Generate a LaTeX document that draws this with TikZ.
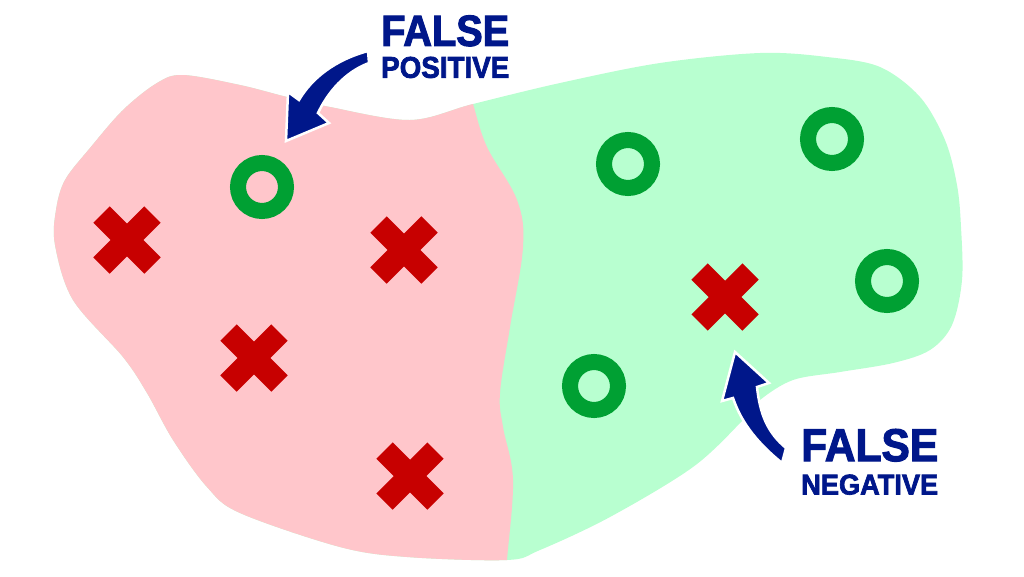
\documentclass[tikz,border=0pt]{standalone}
\usepackage{fontspec}
\usepackage{graphicx}
\setmainfont{Liberation Sans}
\newfontfamily\labfont[FakeBold=2.5]{Liberation Sans Bold}
\definecolor{pinkreg}{HTML}{FFC6CB}
\definecolor{greenreg}{HTML}{B8FFD0}
\definecolor{ringgreen}{HTML}{00A033}
\definecolor{crossred}{HTML}{C70000}
\definecolor{navy}{HTML}{00178A}
\tikzset{
  ring/.style={circle, draw=ringgreen, line width=16pt, minimum size=48pt, inner sep=0pt},
  crossmark/.style={crossred, line width=23pt, line cap=butt},
  bigarrow/.style={fill=navy, draw=white, line width=2.5pt, line join=miter},
  lab/.style={inner sep=0pt, anchor=south west, text=navy, font=\labfont}
}
\newcommand{\xmark}[2]{%
  \draw[crossmark] (#1-25.5,#2-25.5) -- (#1+25.5,#2+25.5);
  \draw[crossmark] (#1-25.5,#2+25.5) -- (#1+25.5,#2-25.5);}
\begin{document}
\begin{tikzpicture}[x=1pt,y=-1pt]
\useasboundingbox (0,0) rectangle (1024,576);
\def\blob{plot[smooth cycle, tension=0.55] coordinates {
 (157,83) (183,75) (240,85) (287,97) (330,107) (410,120) (473,104)
 (560,83) (660,63) (760,53) (827,57) (880,67) (920,97) (945,140) (957,185) (961,227)
 (962,280) (952,325) (930,350) (893,363) (840,372) (793,380) (760,400)
 (743,420) (693,467) (610,517) (540,550) (507,560) (407,557) (340,547)
 (240,513) (207,487) (173,440) (147,393) (123,357) (73,300) (55,245) (56,210)
 (65,180) (90,148) (123,110)}}
% green region (whole blob)
\fill[greenreg] \blob;
% pink region: left of divider
\begin{scope}
\clip plot[smooth, tension=0.6] coordinates {(466,80) (473,104) (487,147) (517,200) (523,247)
  (510,327) (500,393) (503,427) (513,480) (507,560) (505,590)} -- (-10,590) -- (-10,-10) -- cycle;
\fill[pinkreg] \blob;
\end{scope}
% rings
\node[ring] (r1) at (262,187) {};
\node[ring] (r2) at (628,164) {};
\node[ring] (r3) at (832,139) {};
\node[ring] (r4) at (887,281) {};
\node[ring] (r5) at (594,386) {};
% crosses
\xmark{127}{240}
\xmark{404}{250}
\xmark{254}{358}
\xmark{410}{476}
\xmark{725}{297}
% arrows
\fill[bigarrow] (368,51) .. controls (335,60) and (312,78) .. (299,100) -- (288,92)
  -- (286,141) -- (329,123) -- (318,113) .. controls (328,92) and (345,72) .. (369,63) -- cycle;
\fill[bigarrow] (735,352) -- (769,383) -- (757,387) .. controls (760,415) and (768,433) .. (786,448)
  -- (782,463) .. controls (760,445) and (742,425) .. (733,398) -- (722,401) -- cycle;
% labels
\node[lab] (fp1) at (381,46.5) {\resizebox{128pt}{30.5pt}{FALSE}};
\node[lab] (fp2) at (381,78.3) {\resizebox{128pt}{21pt}{POSITIVE}};
\node[lab] (fn1) at (801,461.7) {\resizebox{137pt}{32pt}{FALSE}};
\node[lab] (fn2) at (801,495) {\resizebox{137pt}{20pt}{NEGATIVE}};
\end{tikzpicture}
\end{document}
